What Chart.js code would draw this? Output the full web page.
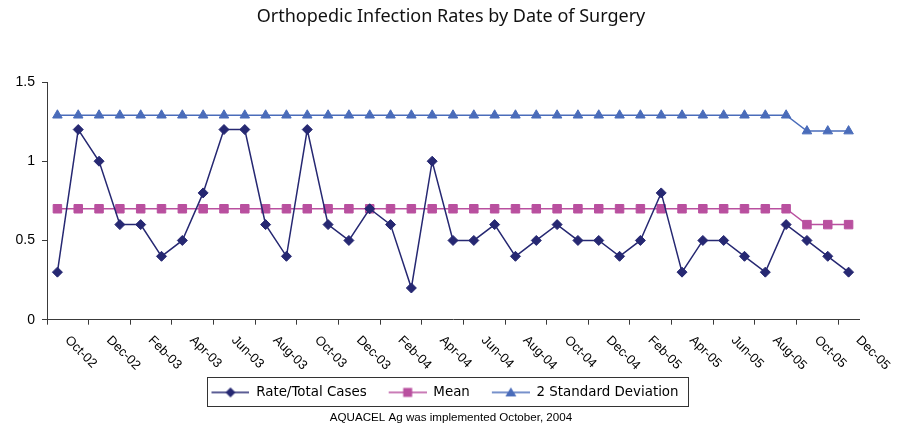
<!DOCTYPE html>
<html>
<head>
<meta charset="utf-8">
<script src="https://cdn.jsdelivr.net/npm/chart.js@4.4.0/dist/chart.umd.min.js"></script>
<style>
  html, body { margin: 0; padding: 0; background: #fff; }
  #wrap { width: 902px; height: 426px; }
</style>
</head>
<body>
<div id="wrap"><canvas id="infectionChart"></canvas></div>
<script>
const months = [
  'Oct-02', 'Nov-02', 'Dec-02',
  'Jan-03', 'Feb-03', 'Mar-03', 'Apr-03', 'May-03', 'Jun-03', 'Jul-03', 'Aug-03', 'Sep-03', 'Oct-03', 'Nov-03', 'Dec-03',
  'Jan-04', 'Feb-04', 'Mar-04', 'Apr-04', 'May-04', 'Jun-04', 'Jul-04', 'Aug-04', 'Sep-04', 'Oct-04', 'Nov-04', 'Dec-04',
  'Jan-05', 'Feb-05', 'Mar-05', 'Apr-05', 'May-05', 'Jun-05', 'Jul-05', 'Aug-05', 'Sep-05', 'Oct-05', 'Nov-05', 'Dec-05'
]

const rateTotalCases = [
  0.3, 1.2, 1.0,
  0.6, 0.6, 0.4, 0.5, 0.8, 1.2, 1.2, 0.6, 0.4, 1.2, 0.6, 0.5,
  0.7, 0.6, 0.2, 1.0, 0.5, 0.5, 0.6, 0.4, 0.5, 0.6, 0.5, 0.5,
  0.4, 0.5, 0.8, 0.3, 0.5, 0.5, 0.4, 0.3, 0.6, 0.5, 0.4, 0.3
]

const meanRate = [
  0.7, 0.7, 0.7,
  0.7, 0.7, 0.7, 0.7, 0.7, 0.7, 0.7, 0.7, 0.7, 0.7, 0.7, 0.7,
  0.7, 0.7, 0.7, 0.7, 0.7, 0.7, 0.7, 0.7, 0.7, 0.7, 0.7, 0.7,
  0.7, 0.7, 0.7, 0.7, 0.7, 0.7, 0.7, 0.7, 0.7, 0.6, 0.6, 0.6
]

const twoStdDev = [
  1.29, 1.29, 1.29,
  1.29, 1.29, 1.29, 1.29, 1.29, 1.29, 1.29, 1.29, 1.29, 1.29, 1.29, 1.29,
  1.29, 1.29, 1.29, 1.29, 1.29, 1.29, 1.29, 1.29, 1.29, 1.29, 1.29, 1.29,
  1.29, 1.29, 1.29, 1.29, 1.29, 1.29, 1.29, 1.29, 1.29, 1.19, 1.19, 1.19
]

const yMin = 0
const yMax = 1.5
const yStep = 0.5

const NAVY = '#262872'
const MAGENTA = '#B9509F'
const BLUE = '#4A6CBA'
const AXIS = '#3a3a3a'
const ARIAL = '"Liberation Sans", Arial, sans-serif'
const WIDE = '"DejaVu Sans", sans-serif'
const LEGEND_PAD = 14
const LEGEND_SHIFT = 10

// legend icon: short line with the series marker in the middle
function legendIcon(color, shape) {
  const c = document.createElement('canvas')
  c.width = 46
  c.height = 14
  const g = c.getContext('2d')
  g.strokeStyle = color
  g.fillStyle = color
  g.lineWidth = 1.5
  g.beginPath()
  g.moveTo(8, 7)
  g.lineTo(46, 7)
  g.stroke()
  const cx = 27, cy = 7
  g.beginPath()
  if (shape === 'diamond') {
    g.moveTo(cx, cy - 5); g.lineTo(cx + 5, cy); g.lineTo(cx, cy + 5); g.lineTo(cx - 5, cy)
  } else if (shape === 'square') {
    g.rect(cx - 4.5, cy - 4.5, 9, 9)
  } else {
    g.moveTo(cx, cy - 5); g.lineTo(cx + 5.5, cy + 4); g.lineTo(cx - 5.5, cy + 4)
  }
  g.closePath()
  g.fill()
  return c
}

const legendIcons = [
  legendIcon(NAVY, 'diamond'),
  legendIcon(MAGENTA, 'square'),
  legendIcon(BLUE, 'triangle')
]

// rotated category labels (every second month), text runs down to the right
const rotatedLabels = {
  id: 'rotatedLabels',
  afterDraw(chart) {
    const xs = chart.scales.x
    const ctx = chart.ctx
    ctx.save()
    ctx.font = '13px ' + ARIAL
    ctx.fillStyle = '#000'
    ctx.textAlign = 'left'
    ctx.textBaseline = 'alphabetic'
    months.forEach((m, i) => {
      if (i % 2 !== 0) return
      const x = xs.getPixelForValue(i)
      ctx.save()
      ctx.translate(x + 7, xs.top + 21)
      ctx.rotate(Math.PI / 4)
      ctx.fillText(m, 0, 0)
      ctx.restore()
    })
    ctx.restore()
  }
}

// legend sits a little left of centre, with a thin frame round it
const legendFrame = {
  id: 'legendFrame',
  afterLayout(chart) {
    const lg = chart.legend
    if (!lg || !lg.lineWidths) return
    lg._plainWidth = lg.lineWidths[0]
    lg.lineWidths[0] += 2 * LEGEND_SHIFT
  },
  afterDraw(chart) {
    const lg = chart.legend
    if (!lg || !lg._plainWidth) return
    const startX = (lg.left + LEGEND_PAD + lg.right - lg.lineWidths[0]) / 2
    const left = startX + 4
    const right = startX + lg._plainWidth - LEGEND_PAD + 10
    const rowTop = lg.top + LEGEND_PAD
    const ctx = chart.ctx
    ctx.save()
    ctx.strokeStyle = '#333'
    ctx.lineWidth = 1
    ctx.strokeRect(Math.round(left) + 0.5, Math.round(rowTop - 9) + 0.5,
      Math.round(right - left), 29)
    ctx.restore()
  }
}

new Chart(document.getElementById('infectionChart'), {
  type: 'line',
  data: {
    labels: months,
    datasets: [
      {
        label: 'Rate/Total Cases',
        data: rateTotalCases,
        borderColor: NAVY,
        backgroundColor: NAVY,
        borderWidth: 1.5,
        pointStyle: 'rectRot',
        pointRadius: 5,
        pointBorderWidth: 1,
        tension: 0
      },
      {
        label: 'Mean',
        data: meanRate,
        borderColor: MAGENTA,
        backgroundColor: MAGENTA,
        borderWidth: 1.5,
        pointStyle: 'rect',
        pointRadius: 6,
        pointBorderWidth: 1,
        tension: 0
      },
      {
        label: '2 Standard Deviation',
        data: twoStdDev,
        borderColor: BLUE,
        backgroundColor: BLUE,
        borderWidth: 1.5,
        pointStyle: 'triangle',
        pointRadius: 5.5,
        pointBorderWidth: 1,
        tension: 0
      }
    ]
  },
  options: {
    responsive: true,
    maintainAspectRatio: false,
    animation: false,
    layout: { padding: 0 },
    plugins: {
      title: {
        display: true,
        text: 'Orthopedic Infection Rates by Date of Surgery',
        color: '#111',
        font: { family: '"Noto Sans", sans-serif', size: 18, weight: 'normal' },
        padding: { top: 6, bottom: 54.4 }
      },
      subtitle: {
        display: true,
        position: 'bottom',
        text: 'AQUACEL Ag was implemented October, 2004',
        color: '#000',
        font: { family: ARIAL, size: 11.6 },
        padding: { top: 2, bottom: 1 }
      },
      legend: {
        position: 'bottom',
        labels: {
          usePointStyle: true,
          pointStyleWidth: 46,
          padding: LEGEND_PAD,
          color: '#000',
          font: { family: WIDE, size: 13.4 },
          generateLabels(chart) {
            const items = Chart.defaults.plugins.legend.labels.generateLabels(chart)
            items.forEach((it, i) => { it.pointStyle = legendIcons[i] })
            return items
          }
        }
      },
      tooltip: { enabled: false }
    },
    scales: {
      x: {
        type: 'category',
        offset: true,
        afterFit(scale) { scale.height = 52 },
        border: { display: true, color: AXIS, width: 1 },
        grid: {
          offset: true,
          drawOnChartArea: false,
          drawTicks: true,
          tickLength: 5,
          tickColor: ctx => (ctx.index % 2 === 0 ? AXIS : 'rgba(0,0,0,0)')
        },
        ticks: { display: false, autoSkip: false }
      },
      y: {
        min: yMin,
        max: yMax,
        afterFit(scale) { scale.width = 47 },
        border: { display: true, color: AXIS, width: 1 },
        grid: { drawOnChartArea: false, drawTicks: true, tickLength: 5, color: AXIS },
        ticks: {
          stepSize: yStep,
          padding: 7,
          color: '#000',
          font: { family: ARIAL, size: 14 },
          callback: v => String(v)
        }
      },
      // empty right-hand margin so the title stays centred on the whole canvas
      yRight: {
        type: 'linear',
        position: 'right',
        afterFit(scale) { scale.width = 43 },
        border: { display: false },
        grid: { display: false },
        ticks: { display: false }
      }
    }
  },
  plugins: [rotatedLabels, legendFrame]
})
</script>
</body>
</html>
